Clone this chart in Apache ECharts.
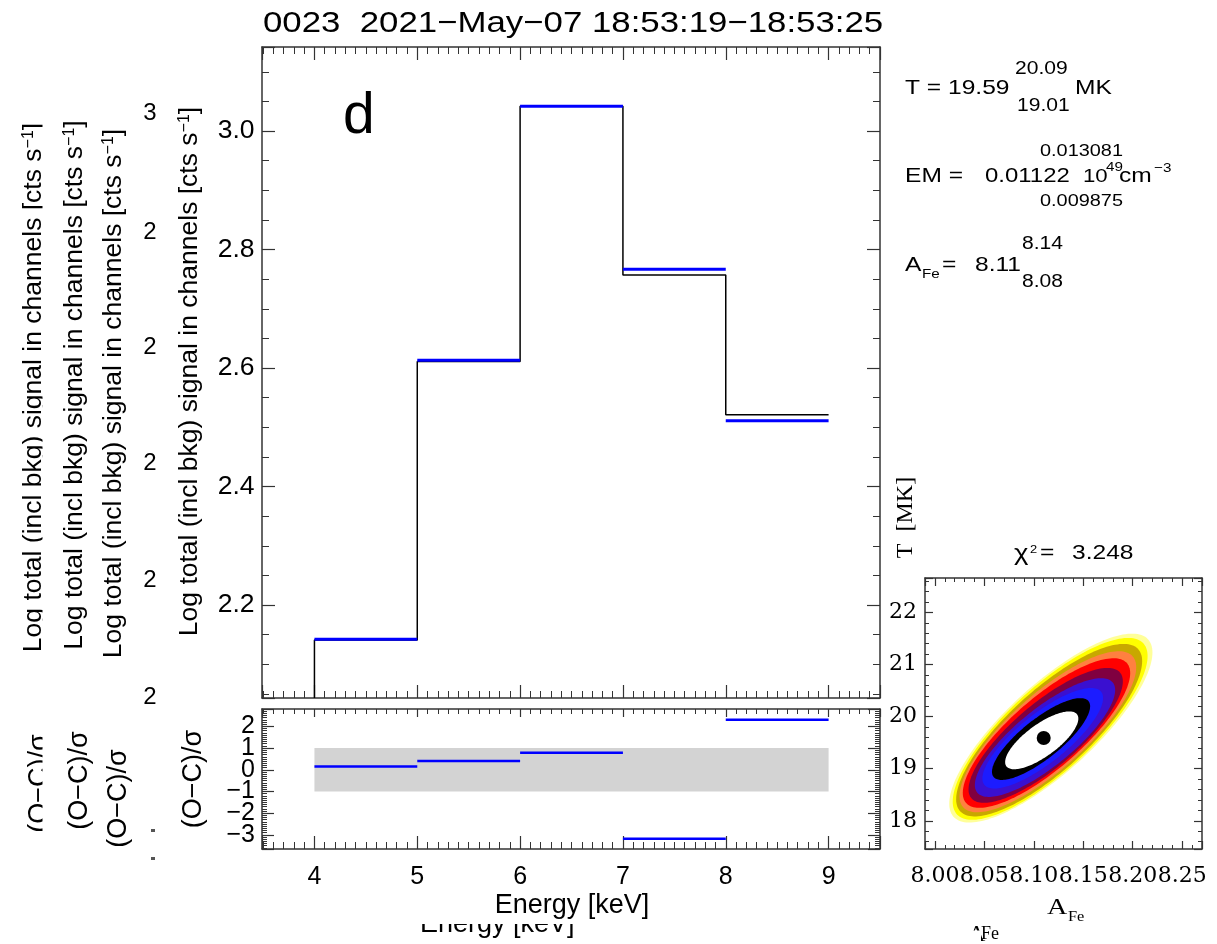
<!DOCTYPE html>
<html><head><meta charset="utf-8">
<script src="https://cdn.jsdelivr.net/npm/echarts@6/dist/echarts.min.js"></script>
<style>html,body{margin:0;padding:0;background:#fff}#c{width:1217px;height:944px}</style>
</head><body><div id="c"></div>
<script>
// ---------------- data ----------------
const energyEdges = [4, 5, 6, 7, 8, 9];
const observedLog = [2.141, 2.611, 3.042, 2.757, 2.521];
const modelLog    = [2.142, 2.613, 3.042, 2.767, 2.511];
const residuals   = [0.15, 0.41, 0.78, -3.18, 2.31];
const sigmaBand   = [-1, 1];
const energyRange = [3.49, 9.5];
const specRange   = [2.043, 3.142];
const residRange  = [-3.65, 2.8];
const afeRange    = [7.99, 8.27];
const tempRange   = [17.46, 22.66];
// chi-square contour levels, outermost first
const contourColors  = ['#ffff99', '#ffff00', '#c8a800', '#ff8040', '#ff0000', '#800040', '#3a10d0', '#1c1cff', '#000000', '#ffffff'];
const contourCenterA = [8.1172, 8.1165, 8.1155, 8.1142, 8.1128, 8.1120, 8.1113, 8.1090, 8.1073, 8.1080];
const contourCenterT = [19.78, 19.765, 19.74, 19.71, 19.685, 19.64, 19.598, 19.585, 19.57, 19.545];
const contourHalfA   = [0.1027, 0.0985, 0.0940, 0.0893, 0.0846, 0.0780, 0.0709, 0.0610, 0.0496, 0.0370];
const contourHalfT   = [1.8125, 1.745, 1.655, 1.545, 1.435, 1.295, 1.139, 0.965, 0.785, 0.555];
const contourRho     = [0.8, 0.8, 0.8, 0.8, 0.8, 0.8, 0.8, 0.8, 0.8, 0.75];
const bestFit = [8.11, 19.59];
const ghostTickLabels = ['3', '2', '2', '2', '2', '2'];

// ---------------- helpers ----------------
const SANS = "'Liberation Sans', Arial, Helvetica, sans-serif";
const SERIF = "'Liberation Serif', 'Times New Roman', serif";
const DSERIF = "'DejaVu Serif', serif";
const AXC = '#333';

function near(v, step) { const r = Math.round(v / step) * step; return Math.abs(v - r) < step * 1e-4 ? r : null; }
const fmt1 = v => { const r = near(v, 0.2); return r === null ? '' : r.toFixed(1); };
const fmtInt = v => { const r = near(v, 1); return r === null ? '' : String(Math.round(r)); };
const fmtIntMinus = v => { const r = near(v, 1); if (r === null) return ''; const n = Math.round(r); return n < 0 ? '\u2212' + (-n) : String(n); };
const fmt2 = v => { const r = near(v, 0.05); return r === null ? '' : r.toFixed(2); };

function mkAxis(o) {
  return {
    type: 'value', gridIndex: o.grid, position: o.pos, min: o.range[0], max: o.range[1],
    splitNumber: 5,
    axisLine: { show: true, onZero: false, lineStyle: { color: AXC, width: 1.5 } },
    axisTick: { show: true, inside: true, length: o.major, lineStyle: { color: AXC, width: 1.2 } },
    minorTick: { show: true, splitNumber: o.minorSplit, length: o.minor, lineStyle: { color: AXC, width: 1 } },
    splitLine: { show: false }, minorSplitLine: { show: false },
    axisLabel: o.label ? Object.assign({ show: true, color: '#000', hideOverlap: false }, o.label) : { show: false },
    axisPointer: { show: false }
  };
}

// ---------------- derived series data ----------------
const obsLine = [[energyEdges[0], specRange[0]]];
observedLog.forEach((v, i) => { obsLine.push([energyEdges[i], v]); obsLine.push([energyEdges[i + 1], v]); });
const modelSegs = modelLog.map((v, i) => [energyEdges[i], energyEdges[i + 1], v]);
const residSegs = residuals.map((v, i) => [energyEdges[i], energyEdges[i + 1], v]);
const bandData = [[energyEdges[0], energyEdges[energyEdges.length - 1], sigmaBand[0], sigmaBand[1]]];
const levelData = contourColors.map((c, i) => [contourCenterA[i], contourCenterT[i], contourHalfA[i], contourHalfT[i], contourRho[i]]);

function segRender(color, width) {
  return function (params, api) {
    const p0 = api.coord([api.value(0), api.value(2)]);
    const p1 = api.coord([api.value(1), api.value(2)]);
    return { type: 'line', shape: { x1: p0[0], y1: p0[1], x2: p1[0], y2: p1[1] }, style: { stroke: color, lineWidth: width } };
  };
}
function bandRender(params, api) {
  const p0 = api.coord([api.value(0), api.value(3)]);
  const p1 = api.coord([api.value(1), api.value(2)]);
  return { type: 'rect', shape: { x: p0[0], y: p0[1], width: p1[0] - p0[0], height: p1[1] - p0[1] }, style: { fill: '#d3d3d3' } };
}
function ellipseRender(params, api) {
  const i = params.dataIndex;
  const cx = api.value(0), cy = api.value(1), sa = api.value(2), st = api.value(3), rho = api.value(4);
  const k = Math.sqrt(1 - rho * rho);
  const pts = [];
  const N = 160;
  for (let j = 0; j < N; j++) {
    const t = 2 * Math.PI * j / N, u = Math.cos(t), v = Math.sin(t);
    pts.push(api.coord([cx + sa * u, cy + st * (rho * u + k * v)]));
  }
  return { type: 'polygon', shape: { points: pts }, style: { fill: contourColors[i], stroke: null } };
}

// ---------------- graphic texts ----------------
const G = [];
function T(text, x, y, size, family, o) {
  o = o || {};
  const el = { type: 'text', x: x, y: y, z: o.z || 50, silent: true,
    style: { text: text, font: size + 'px ' + family, fill: o.fill || '#000', align: o.align || 'left', verticalAlign: o.va || 'middle' } };
  if (o.rich) el.style.rich = o.rich;
  if (o.rot) el.rotation = o.rot;
  if (o.sx) el.scaleX = o.sx;
  G.push(el);
}
function TB(text, x, base, size, family, o) { T(text, x, base - 0.31 * size, size, family, o); }
function R(x, y, w, h, fill, z) { G.push({ type: 'rect', z: z || 45, silent: true, shape: { x: x, y: y, width: w, height: h }, style: { fill: fill } }); }
const ROT = Math.PI / 2;
const SX = 1.17;

// title and panel letter
TB('0023  2021\u2212May\u221207 18:53:19\u221218:53:25', 263, 33.3, 30, SANS, { sx: 1.16 });
TB('d', 343, 135, 57, SANS);

// fit parameter block
TB('T = 19.59', 905, 95, 21, SANS, { sx: SX });
TB('20.09', 1015, 75, 18, SANS, { sx: SX });
TB('19.01', 1017, 112, 18, SANS, { sx: SX });
TB('MK', 1075, 95, 21, SANS, { sx: SX });
TB('0.013081', 1040, 157, 17, SANS, { sx: SX });
TB('EM =', 905, 183, 21, SANS, { sx: SX });
TB('0.01122', 985, 183, 21, SANS, { sx: 1.14 });
TB('10', 1083, 183, 19, SANS, { sx: SX });
TB('49', 1106, 171, 13, SANS, { sx: SX });
TB('cm', 1119, 183, 21, SANS, { sx: SX });
TB('\u22123', 1154, 172, 13, SANS, { sx: SX });
TB('0.009875', 1040, 207, 17, SANS, { sx: SX });
TB('A', 905, 272, 21, SANS, { sx: SX });
TB('Fe', 922, 278, 13, SANS, { sx: SX });
TB('=', 942, 272, 21, SANS, { sx: SX });
TB('8.11', 975, 272, 21, SANS, { sx: SX });
TB('8.14', 1022, 250, 18, SANS, { sx: SX });
TB('8.08', 1022, 288, 18, SANS, { sx: SX });

// chi2 header and contour axis names
TB('\u03c7', 1014, 561, 22, SANS, { sx: 1.25 });
TB('2', 1030, 553, 11, SANS, { sx: SX });
TB('=', 1040, 560, 21, SANS, { sx: SX });
TB('3.248', 1072, 560, 21, SANS, { sx: SX });
T('T  [MK]', 905.5, 517.5, 24, SERIF, { rot: ROT, align: 'center' });
TB('A', 1047, 915, 24, SERIF, { sx: SX });
TB('Fe', 1068, 922, 14, SERIF, { sx: SX });
// ghost A_Fe (partly hidden)
TB('A', 968, 942, 24, SERIF, { z: 40 });
TB('Fe', 981, 940, 18, SERIF, { z: 40 });
R(964, 930.5, 17, 14, '#fff', 45);

// energy axis names
TB('Energy [keV]', 420, 933, 27, SANS, { z: 40 });
R(412, 900, 175, 24, '#fff', 45);
TB('Energy [keV]', 572, 914, 27, SANS, { align: 'center', z: 50 });

// y-axis names (main + ghosts)
const supRich = { sup: { font: '16px ' + SANS, verticalAlign: 'top', fill: '#000' } };
const logName = 'Log total (incl bkg) signal in channels [cts s{sup|\u22121}]';
T(logName, 189.6, 371.5, 26.5, SANS, { rot: ROT, align: 'center', rich: supRich });
T(logName, 33.6, 387.5, 26.5, SANS, { rot: ROT, align: 'center', rich: supRich, z: 40 });
T(logName, 74.6, 385, 26.5, SANS, { rot: ROT, align: 'center', rich: supRich, z: 40 });
T(logName, 113.6, 393.5, 26.5, SANS, { rot: ROT, align: 'center', rich: supRich, z: 40 });
const ocName = '(O\u2212C)/\u03c3';
T(ocName, 193.3, 779, 27, SANS, { rot: ROT, align: 'center' });
T(ocName, 39.3, 783.5, 27, SANS, { rot: ROT, align: 'center', z: 40 });
T(ocName, 79.3, 780.5, 27, SANS, { rot: ROT, align: 'center', z: 40 });
T(ocName, 118.3, 798.5, 27, SANS, { rot: ROT, align: 'center', z: 40 });
R(42.5, 90, 15, 760, '#fff', 45);
// ghost tick labels
const ghostY = [113.5, 232, 347, 463, 580, 697];
ghostTickLabels.forEach((s, i) => T(s, 150, ghostY[i], 24, SANS, { align: 'center', z: 40 }));
R(151, 829, 4, 3, '#555', 40);
R(151, 857, 4, 3, '#555', 40);

// ---------------- chart ----------------
const chart = echarts.init(document.getElementById('c'), null, { renderer: 'canvas' });
chart.setOption({
  animation: false,
  backgroundColor: '#fff',
  grid: [
    { left: 262, top: 47, width: 618, height: 651, containLabel: false, outerBoundsMode: 'none' },
    { left: 262, top: 709, width: 618, height: 140, containLabel: false, outerBoundsMode: 'none' },
    { left: 925, top: 578, width: 277, height: 271, containLabel: false, outerBoundsMode: 'none' }
  ],
  xAxis: [
    mkAxis({ grid: 0, pos: 'bottom', range: energyRange, major: 13, minor: 7, minorSplit: 10 }),
    mkAxis({ grid: 0, pos: 'top', range: energyRange, major: 13, minor: 7, minorSplit: 10 }),
    mkAxis({ grid: 1, pos: 'bottom', range: energyRange, major: 13, minor: 7, minorSplit: 10,
      label: { fontSize: 25, fontFamily: SANS, margin: 16, formatter: fmtInt } }),
    mkAxis({ grid: 1, pos: 'top', range: energyRange, major: 8, minor: 5, minorSplit: 10 }),
    mkAxis({ grid: 2, pos: 'bottom', range: afeRange, major: 8, minor: 4, minorSplit: 5,
      label: { fontSize: 22, fontFamily: DSERIF, margin: 16, formatter: fmt2 } }),
    mkAxis({ grid: 2, pos: 'top', range: afeRange, major: 8, minor: 4, minorSplit: 5 })
  ],
  yAxis: [
    mkAxis({ grid: 0, pos: 'left', range: specRange, major: 13, minor: 7, minorSplit: 4,
      label: { fontSize: 26.5, fontFamily: SANS, margin: 7.5, formatter: fmt1 } }),
    mkAxis({ grid: 0, pos: 'right', range: specRange, major: 13, minor: 7, minorSplit: 4 }),
    mkAxis({ grid: 1, pos: 'left', range: residRange, major: 12, minor: 5, minorSplit: 10,
      label: { fontSize: 25, fontFamily: SANS, margin: 7, formatter: fmtIntMinus } }),
    mkAxis({ grid: 1, pos: 'right', range: residRange, major: 12, minor: 5, minorSplit: 10 }),
    mkAxis({ grid: 2, pos: 'left', range: tempRange, major: 8, minor: 4, minorSplit: 5,
      label: { fontSize: 22, fontFamily: DSERIF, margin: 8, formatter: fmtInt } }),
    mkAxis({ grid: 2, pos: 'right', range: tempRange, major: 8, minor: 4, minorSplit: 5 })
  ],
  series: [
    { type: 'line', xAxisIndex: 0, yAxisIndex: 0, data: obsLine, symbol: 'none', clip: true, z: 3,
      lineStyle: { color: '#000', width: 1.5 } },
    { type: 'custom', xAxisIndex: 0, yAxisIndex: 0, data: modelSegs, renderItem: segRender('#0000ff', 3), clip: true, z: 4,
      encode: { x: [0, 1], y: 2 } },
    { type: 'custom', xAxisIndex: 2, yAxisIndex: 2, data: bandData, renderItem: bandRender, clip: true, z: 2,
      encode: { x: [0, 1], y: [2, 3] } },
    { type: 'custom', xAxisIndex: 2, yAxisIndex: 2, data: residSegs, renderItem: segRender('#0000ff', 2.5), clip: true, z: 4,
      encode: { x: [0, 1], y: 2 } },
    { type: 'custom', xAxisIndex: 4, yAxisIndex: 4, data: levelData, renderItem: ellipseRender, clip: true, z: 2,
      encode: { x: 0, y: 1 } },
    { type: 'scatter', xAxisIndex: 4, yAxisIndex: 4, data: [bestFit], symbol: 'circle', symbolSize: 14, z: 5,
      itemStyle: { color: '#000', opacity: 1 } }
  ],
  graphic: { elements: G }
});
</script>
</body></html>
